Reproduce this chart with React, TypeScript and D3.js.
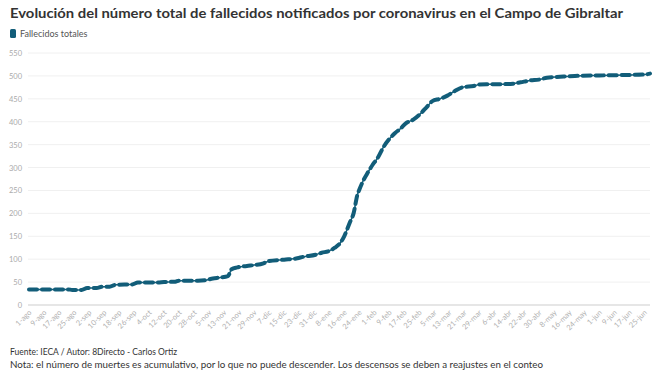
import React from "react";
import * as d3 from "d3";

const title = "Evolución del número total de fallecidos notificados por coronavirus en el Campo de Gibraltar";
const legendLabel = "Fallecidos totales";
const source = "Fuente: IECA / Autor: 8Directo - Carlos Ortiz";
const note = "Nota: el número de muertes es acumulativo, por lo que no puede descender. Los descensos se deben a reajustes en el conteo";

// day offsets from 1 Aug 2020
const days = [0, 21, 23, 28, 31, 36, 39, 43, 46, 55, 58, 68, 72, 78, 80, 90, 94, 98, 102, 106, 108, 111, 118, 125, 128, 136, 143, 146, 153, 156, 160, 163, 166, 168, 171, 173, 175, 176, 178, 180, 183, 186, 189, 192, 195, 198, 201, 205, 208, 212, 215, 219, 223, 227, 231, 237, 240, 244, 251, 258, 262, 267, 272, 276, 283, 291, 304, 318, 328, 331];
const deaths = [34, 34, 33, 33, 37, 37, 40, 40, 44, 45, 49, 49, 50, 51, 53, 53, 54, 58, 60, 63, 78, 82, 86, 91, 96, 99, 102, 105, 110, 114, 118, 125, 136, 150, 180, 200, 240, 251, 270, 285, 305, 322, 345, 362, 375, 385, 397, 405, 415, 432, 445, 450, 457, 467, 475, 478, 481, 482, 482, 483, 486, 490, 492, 496, 498, 500, 501, 502, 503, 505];

const tickLabels = ["1-ago", "9-ago", "17-ago", "25-ago", "2-sep", "10-sep", "18-sep", "26-sep", "4-oct", "12-oct", "20-oct", "28-oct", "5-nov", "13-nov", "21-nov", "29-nov", "7-dic", "15-dic", "23-dic", "31-dic", "8-ene", "16-ene", "24-ene", "1-feb", "9-feb", "17-feb", "25-feb", "5-mar", "13-mar", "21-mar", "29-mar", "6-abr", "14-abr", "22-abr", "30-abr", "8-may", "16-may", "24-may", "1-jun", "9-jun", "17-jun", "25-jun"];
const yTicks = [0, 50, 100, 150, 200, 250, 300, 350, 400, 450, 500, 550];

const W = 659, H = 371;
const left = 29, right = 650, top = 53, bottom = 305;
const color = "#125d79";
const font = "Lato, 'Open Sans', sans-serif";

export default function App() {
  const start = new Date(2020, 7, 1);
  const dateOf = (d: number) => d3.timeDay.offset(start, d);
  const x = d3.scaleTime().domain([dateOf(0), dateOf(331)]).range([left, right]);
  const y = d3.scaleLinear().domain([0, 550]).range([bottom, top]);
  const pts = days.map((d, i) => [dateOf(d), deaths[i]] as [Date, number]);
  const line = d3.line<[Date, number]>().x(p => x(p[0])).y(p => y(p[1])).curve(d3.curveMonotoneX);
  const path = line(pts) || "";

  return (
    <svg width={W} height={H} style={{ position: "absolute", left: 0, top: 0, background: "#fff" }} fontFamily={font}>
      <text x={10} y={18} fontSize={13.5} fontWeight={700} fill="#333" textLength={613} lengthAdjust="spacingAndGlyphs">{title}</text>
      <rect x={10} y={29} width={6} height={9} rx={1.5} fill={color} />
      <text x={20} y={37} fontSize={9} fill="#555">{legendLabel}</text>
      {yTicks.map(t => (
        <g key={t}>
          <line x1={left - 1} x2={right} y1={y(t)} y2={y(t)} stroke={t === 0 ? "#e6e6e6" : "#f0f0f0"} strokeWidth={t === 0 ? 2 : 1} />
          <text x={22} y={y(t) + 3} fontSize={7.5} fill="#aaa" textAnchor="end">{t}</text>
        </g>
      ))}
      {tickLabels.map((l, i) => {
        const tx = x(dateOf(i * 8));
        return (
          <text key={l} transform={`translate(${tx + 3},${313}) rotate(-45)`} fontSize={7.5} fill="#b0b0b0" textAnchor="end">{l}</text>
        );
      })}
      <path d={path} fill="none" stroke={color} strokeWidth={1.5} />
      <path d={path} fill="none" stroke={color} strokeWidth={4} strokeLinecap="round" strokeDasharray="8 5" />
      <text x={10} y={355} fontSize={9.5} fill="#333" textLength={167} lengthAdjust="spacingAndGlyphs">{source}</text>
      <text x={10} y={368} fontSize={9.5} fill="#333" textLength={533} lengthAdjust="spacingAndGlyphs">{note}</text>
    </svg>
  );
}
